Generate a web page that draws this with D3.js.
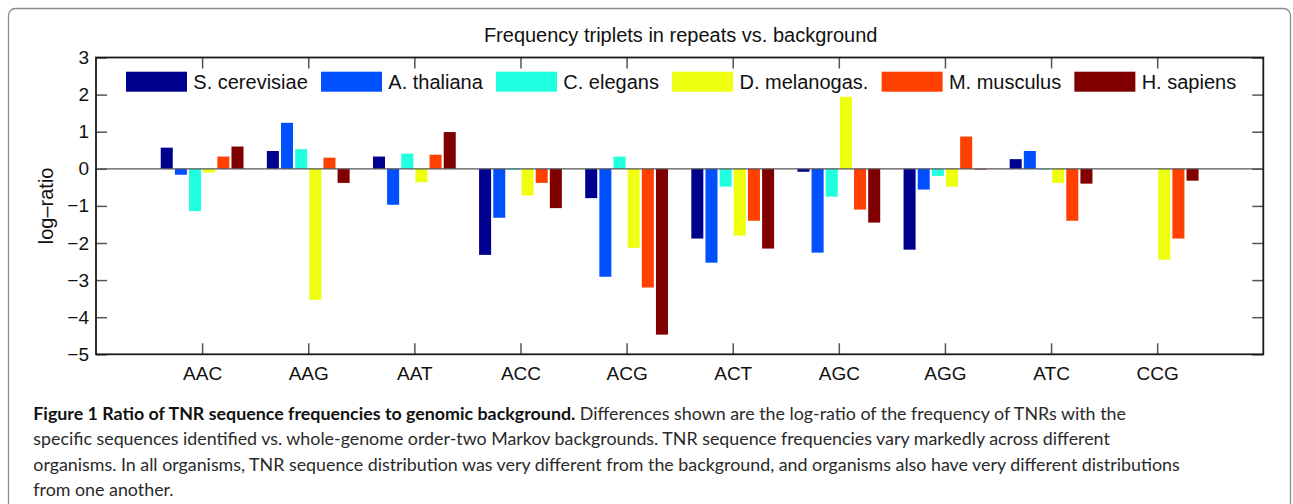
<!DOCTYPE html>
<html>
<head>
<meta charset="utf-8">
<script src="https://cdn.jsdelivr.net/npm/d3@7/dist/d3.min.js"></script>
<style>
  html, body { margin: 0; padding: 0; background: #fff; }
  svg { display: block; }
  .plot-text { font-family: "Liberation Sans", Arial, Helvetica, sans-serif; fill: #111; }
  .caption { font-family: Lato, "Open Sans", sans-serif; fill: #2a2a2a; }
  .caption .lead { font-weight: 700; fill: #111; }
</style>
</head>
<body>
<svg id="chart" width="1293" height="504"></svg>
<script>
const categories = ["AAC", "AAG", "AAT", "ACC", "ACG", "ACT", "AGC", "AGG", "ATC", "CCG"];
const species = ["S. cerevisiae", "A. thaliana", "C. elegans", "D. melanogas.", "M. musculus", "H. sapiens"];
const speciesColors = ["#00008f", "#0050ff", "#20ffdf", "#efff10", "#ff4000", "#800000"];

const sCerevisiae = [0.57, 0.48, 0.33, -2.32, -0.79, -1.88, -0.08, -2.18, 0.26, 0];
const aThaliana = [-0.16, 1.24, -0.97, -1.32, -2.91, -2.53, -2.26, -0.56, 0.48, 0];
const cElegans = [-1.14, 0.53, 0.41, -0.03, 0.33, -0.48, -0.75, -0.19, -0.02, 0];
const dMelanogaster = [-0.10, -3.53, -0.36, -0.72, -2.13, -1.80, 1.94, -0.48, -0.38, -2.45];
const mMusculus = [0.33, 0.30, 0.38, -0.38, -3.20, -1.40, -1.10, 0.87, -1.40, -1.88];
const hSapiens = [0.60, -0.38, 0.99, -1.06, -4.47, -2.15, -1.45, -0.02, -0.40, -0.32];
const seriesValues = [sCerevisiae, aThaliana, cElegans, dMelanogaster, mMusculus, hSapiens];

const yTicks = [3, 2, 1, 0, -1, -2, -3, -4, -5];

const chartTitle = "Frequency triplets in repeats vs. background";
const yLabel = "log\u2013ratio";
const captionLead = "Figure 1 Ratio of TNR sequence frequencies to genomic background.";
const captionLines = [
  " Differences shown are the log-ratio of the frequency of TNRs with the",
  "specific sequences identified vs. whole-genome order-two Markov backgrounds. TNR sequence frequencies vary markedly across different",
  "organisms. In all organisms, TNR sequence distribution was very different from the background, and organisms also have very different distributions",
  "from one another."
];

(function () {
  function draw() {
    const svg = d3.select("#chart");
    const plot = { left: 96, top: 57.5, right: 1263.3, bottom: 354.3 };
    const tickLen = 11;

    // figure frame
    svg.append("rect")
      .attr("x", 8.5).attr("y", 8.5)
      .attr("width", 1282).attr("height", 560)
      .attr("rx", 7)
      .attr("fill", "none")
      .attr("stroke", "#8a8a8a")
      .attr("stroke-width", 1.3);

    const x = d3.scaleLinear().domain([0, categories.length + 1]).range([plot.left, plot.right]);
    const y = d3.scaleLinear().domain([-5, 3]).range([plot.bottom, plot.top]);
    const inner = d3.scaleBand().domain(d3.range(species.length)).range([-0.4, 0.4])
      .paddingInner(0.15).paddingOuter(0.075);

    // bars
    const barLayer = svg.append("g");
    seriesValues.forEach((values, s) => {
      barLayer.selectAll(null)
        .data(values.map((v, i) => ({ v: v, i: i })))
        .join("rect")
        .attr("x", (d) => x(d.i + 1 + inner(s)))
        .attr("width", x(inner.bandwidth()) - x(0))
        .attr("y", (d) => y(Math.max(0, d.v)))
        .attr("height", (d) => Math.abs(y(d.v) - y(0)))
        .attr("fill", speciesColors[s]);
    });

    // zero baseline
    svg.append("line")
      .attr("x1", plot.left).attr("x2", plot.right)
      .attr("y1", y(0)).attr("y2", y(0))
      .attr("stroke", "#555")
      .attr("stroke-width", 1.2);

    const xTickValues = categories.map((c, i) => i + 1);
    const styleAxis = (g) => {
      g.select(".domain").remove();
      g.selectAll(".tick line").attr("stroke", "#555").attr("stroke-width", 1.5);
      g.selectAll("text")
        .attr("class", "plot-text")
        .attr("fill", "#111")
        .style("font-size", "19px");
    };

    svg.append("g")
      .attr("transform", `translate(0,${plot.bottom})`)
      .call(d3.axisBottom(x).tickValues(xTickValues).tickFormat((d) => categories[d - 1])
        .tickSizeInner(-tickLen).tickSizeOuter(0).tickPadding(12))
      .call(styleAxis);

    svg.append("g")
      .attr("transform", `translate(0,${plot.top})`)
      .call(d3.axisTop(x).tickValues(xTickValues).tickFormat("")
        .tickSizeInner(-tickLen).tickSizeOuter(0))
      .call(styleAxis);

    svg.append("g")
      .attr("transform", `translate(${plot.left},0)`)
      .call(d3.axisLeft(y).tickValues(yTicks).tickFormat((d) => d < 0 ? "\u2212" + Math.abs(d) : d)
        .tickSizeInner(-tickLen).tickSizeOuter(0).tickPadding(7))
      .call(styleAxis);

    svg.append("g")
      .attr("transform", `translate(${plot.right},0)`)
      .call(d3.axisRight(y).tickValues(yTicks).tickFormat("")
        .tickSizeInner(-tickLen).tickSizeOuter(0))
      .call(styleAxis);

    // axes box
    svg.append("rect")
      .attr("x", plot.left).attr("y", plot.top)
      .attr("width", plot.right - plot.left).attr("height", plot.bottom - plot.top)
      .attr("fill", "none")
      .attr("stroke", "#1a1a1a")
      .attr("stroke-width", 1.8);

    svg.append("text")
      .attr("class", "plot-text")
      .attr("x", (plot.left + plot.right) / 2 + 1)
      .attr("y", 41.5)
      .attr("text-anchor", "middle")
      .style("font-size", "20px")
      .text(chartTitle);

    svg.append("text")
      .attr("class", "plot-text")
      .attr("transform", `translate(53,${(plot.top + plot.bottom) / 2}) rotate(-90)`)
      .attr("text-anchor", "middle")
      .style("font-size", "20px")
      .text(yLabel);

    // legend, laid out from measured label widths
    const legend = svg.append("g");
    let lx = 126;
    species.forEach((name, s) => {
      legend.append("rect")
        .attr("x", lx).attr("y", 71.7)
        .attr("width", 61).attr("height", 20)
        .attr("fill", speciesColors[s]);
      const label = legend.append("text")
        .attr("class", "plot-text")
        .attr("x", lx + 67.3)
        .attr("y", 89)
        .style("font-size", "20px")
        .text(name);
      lx += 67.3 + label.node().getComputedTextLength() + 13.2;
    });

    // caption
    const caption = svg.append("g").attr("class", "caption");
    const lineY = [419.5, 445.2, 470.8, 496.4];
    const first = caption.append("text").attr("x", 33.3).attr("y", lineY[0]).style("font-size", "18px");
    first.append("tspan").attr("class", "lead").text(captionLead);
    first.append("tspan").text(captionLines[0]);
    const fitted = 18 * 1093 / first.node().getComputedTextLength();
    first.style("font-size", fitted + "px");
    captionLines.slice(1).forEach((line, i) => {
      caption.append("text")
        .attr("x", 33.3)
        .attr("y", lineY[i + 1])
        .style("font-size", fitted + "px")
        .text(line);
    });
  }

  document.addEventListener("DOMContentLoaded", draw);
})();
</script>
</body>
</html>
